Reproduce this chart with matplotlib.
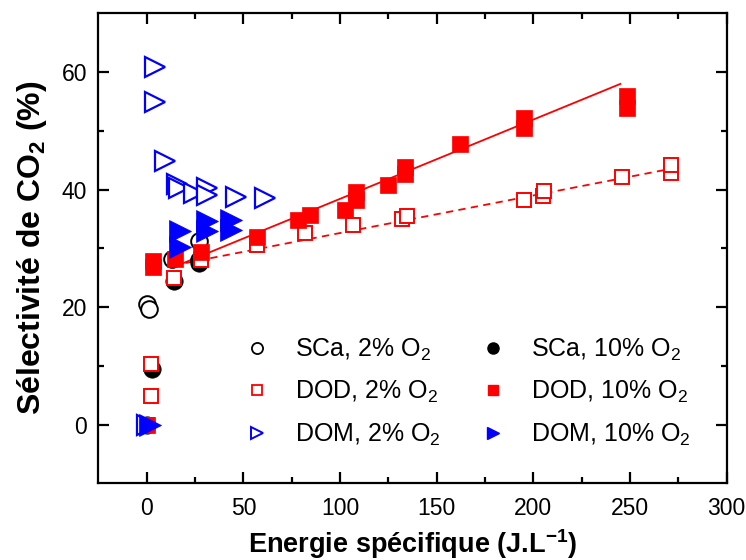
import matplotlib
matplotlib.use("Agg")
import matplotlib.pyplot as plt
from matplotlib.lines import Line2D

plt.rcParams['font.family'] = ['Liberation Sans', 'DejaVu Sans']
plt.rcParams['mathtext.fontset'] = 'custom'
plt.rcParams['mathtext.rm'] = 'Liberation Sans'
plt.rcParams['mathtext.bf'] = 'Liberation Sans:bold'

# SCa
sca2_x = [0, 1, 13, 27, 27]
sca2_y = [20.5, 19.7, 28.2, 31.2, 28.0]
sca10_x = [0, 2.5, 14, 27]
sca10_y = [0, 9.5, 24.4, 27.5]

# DOD
dod2_x = [0, 2.4, 2.4, 14, 28, 57, 81.7, 106.7, 132, 134.5, 195, 205, 205.5, 246, 271, 271]
dod2_y = [0, 10.3, 4.8, 24.9, 28.0, 30.5, 32.6, 34.0, 35.0, 35.5, 38.3, 39.0, 39.8, 42.1, 42.8, 44.2]
dod10_x = [0, 3, 3, 14.5, 28, 57, 78.3, 84.3, 102.4, 108.5, 108.5, 124.8, 133.5, 133.5,
           162, 195, 195, 248.7, 248.7]
dod10_y = [0, 27.9, 26.8, 28.2, 29.3, 31.9, 34.9, 35.7, 36.6, 38.3, 39.6, 40.8, 42.6, 43.8,
           47.8, 50.5, 52.2, 53.9, 55.9]

# DOM
dom2_x = [0, 4, 4, 9.5, 15.5, 16.5, 24.5, 30.9, 30.9, 46.4, 61]
dom2_y = [0, 60.8, 54.9, 44.8, 40.9, 40.2, 39.4, 40.3, 39.1, 38.8, 38.6]
dom10_x = [1.5, 17, 17, 30.9, 30.9, 43.8, 43.8]
dom10_y = [0, 33.0, 30.2, 34.6, 32.9, 34.9, 33.2]

# linear fits (end points)
fit10_x = [16, 245]
fit10_y = [27.1, 58.0]
fit2_x = [20, 275]
fit2_y = [27.5, 43.8]

fig = plt.figure(figsize=(7.46, 5.6), dpi=100)
ax = fig.add_axes([0.132, 0.137, 0.842, 0.839])

red = '#ff0000'
blue = '#0000ff'

ax.plot(fit10_x, fit10_y, '-', color=red, lw=1.3, zorder=2)
ax.plot(fit2_x, fit2_y, '--', color=red, lw=1.3, dashes=(4, 3), zorder=2)

ax.plot(sca2_x, sca2_y, 'o', ms=12, mfc='white', mec='black', mew=1.4, ls='none', zorder=3)
ax.plot(sca10_x, sca10_y, 'o', ms=12.5, mfc='black', mec='black', mew=0.5, ls='none', zorder=3)
ax.plot(dod2_x, dod2_y, 's', ms=10.5, mfc='white', mec=red, mew=1.4, ls='none', zorder=3)
ax.plot(dod10_x, dod10_y, 's', ms=12, mfc=red, mec=red, mew=0.5, ls='none', zorder=3)
ax.plot(dom2_x, dom2_y, '>', ms=15, mfc='white', mec=blue, mew=1.6, ls='none', zorder=3)
ax.plot(dom10_x, dom10_y, '>', ms=15.5, mfc=blue, mec=blue, mew=0.5, ls='none', zorder=3)

ax.set_xlim(-25, 300)
ax.set_ylim(-10, 70)
ax.set_xticks([0, 50, 100, 150, 200, 250, 300])
ax.set_xticks([25, 75, 125, 175, 225, 275], minor=True)
ax.set_yticks([0, 20, 40, 60])
ax.set_yticks([10, 30, 50], minor=True)

for s in ax.spines.values():
    s.set_linewidth(1.6)
ax.tick_params(which='both', direction='in', top=True, right=True, width=1.6,
               labelsize=16.5)
ax.tick_params(which='major', length=8)
ax.tick_params(which='minor', length=4)
ax.tick_params(axis='x', which='major', pad=10)
ax.tick_params(axis='y', which='major', pad=8)

ax.set_xlabel('Energie spécifique (J.L$^{\\mathbf{-1}}$)', fontsize=19.5, fontweight='bold', labelpad=5)
ax.set_ylabel('Sélectivité de CO$_\\mathbf{2}$ (%)', fontsize=23, fontweight='bold', labelpad=9)

handles = [
    Line2D([], [], marker='o', ls='none', ms=8, mfc='white', mec='black', mew=1.3),
    Line2D([], [], marker='s', ls='none', ms=7, mfc='white', mec=red, mew=1.3),
    Line2D([], [], marker='>', ls='none', ms=9, mfc='white', mec=blue, mew=1.4),
    Line2D([], [], marker='o', ls='none', ms=8, mfc='black', mec='black'),
    Line2D([], [], marker='s', ls='none', ms=7, mfc=red, mec=red),
    Line2D([], [], marker='>', ls='none', ms=9, mfc=blue, mec=blue),
]
labels = ['SCa, 2% O$_2$', 'DOD, 2% O$_2$', 'DOM, 2% O$_2$',
          'SCa, 10% O$_2$', 'DOD, 10% O$_2$', 'DOM, 10% O$_2$']
ax.legend(handles, labels, ncol=2, frameon=False, fontsize=18, loc='upper left',
          bbox_to_anchor=(0.205, 0.35), handlelength=1.0, handletextpad=1.0,
          columnspacing=1.6, labelspacing=0.66, borderpad=0.2)

fig.savefig('out.png', dpi=100)
